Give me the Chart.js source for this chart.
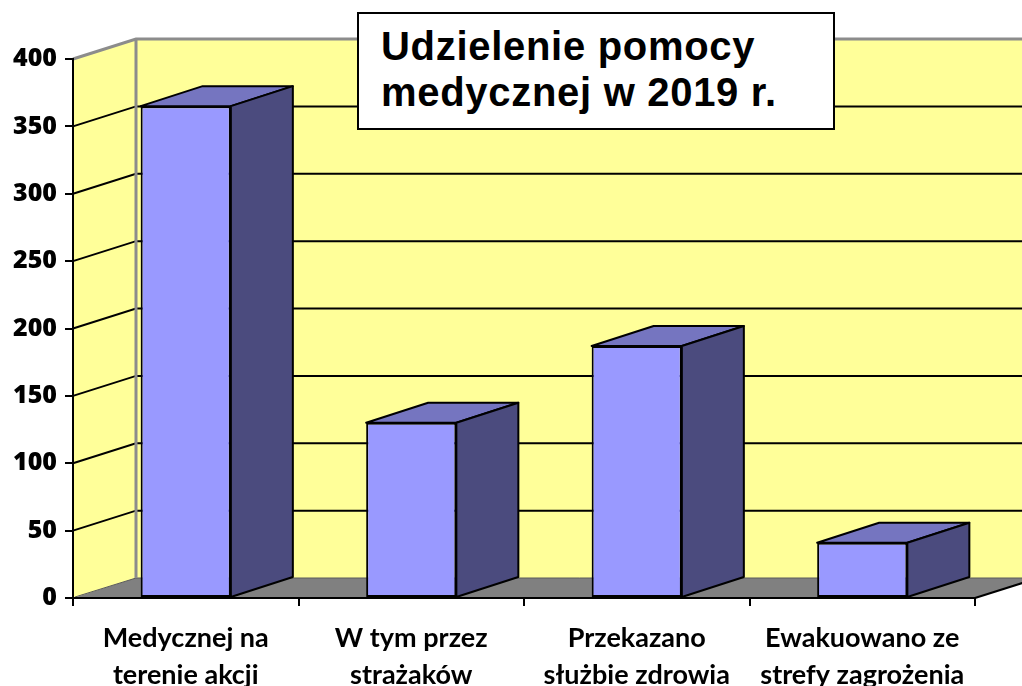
<!DOCTYPE html>
<html>
<head>
<meta charset="utf-8">
<script src="https://cdn.jsdelivr.net/npm/chart.js@4/dist/chart.umd.min.js"></script>
<style>
    body { margin: 0; background: #fff; }
    #wrap { position: relative; width: 1022px; height: 686px; }
    #title {
        position: absolute; left: 357px; top: 12px; width: 478px; height: 118px;
        box-sizing: border-box; border: 2px solid #000; background: #fff;
        font: bold 40px 'Liberation Sans', Arial, sans-serif; letter-spacing: 0.7px;
        line-height: 46px; padding: 9px 0 0 22px; color: #000;
    }
</style>
</head>
<body>
<div id="wrap">
    <canvas id="chart" width="1022" height="686"></canvas>
    <div id="title">Udzielenie pomocy<br>medycznej w 2019 r.</div>
</div>
<script>
const categories = [
    ['Medycznej na', 'terenie akcji'],
    ['W tym przez', 'strażaków'],
    ['Przekazano', 'służbie zdrowia'],
    ['Ewakuowano ze', 'strefy zagrożenia']
];
const values = [365, 130, 187, 41];
const yTickValues = [0, 50, 100, 150, 200, 250, 300, 350, 400];

// depth of the fake 3d box
const WALL_DX = 63, BAR_DX = 62, DEPTH_DY = -20;

const walls3d = {
    id: 'walls3d',
    beforeDraw(chart) {
        const { ctx, chartArea: a, scales: { y } } = chart;
        const top = y.getPixelForValue(yTickValues[yTickValues.length - 1]);
        const bottom = y.getPixelForValue(0);
        ctx.save();

        // left side wall
        ctx.fillStyle = '#ffff99';
        ctx.beginPath();
        ctx.moveTo(a.left, bottom);
        ctx.lineTo(a.left, top);
        ctx.lineTo(a.left + WALL_DX, top + DEPTH_DY);
        ctx.lineTo(a.left + WALL_DX, bottom + DEPTH_DY);
        ctx.closePath();
        ctx.fill();

        // back wall
        ctx.fillRect(a.left + WALL_DX, top + DEPTH_DY, a.right - a.left, bottom - top);

        // floor
        ctx.fillStyle = '#808080';
        ctx.beginPath();
        ctx.moveTo(a.left, bottom);
        ctx.lineTo(a.right, bottom);
        ctx.lineTo(a.right + WALL_DX, bottom + DEPTH_DY);
        ctx.lineTo(a.left + WALL_DX, bottom + DEPTH_DY);
        ctx.closePath();
        ctx.fill();
        ctx.strokeStyle = '#000';
        ctx.lineWidth = 2;
        ctx.beginPath();
        ctx.moveTo(a.right, bottom);
        ctx.lineTo(a.right + WALL_DX, bottom + DEPTH_DY);
        ctx.stroke();
        ctx.strokeStyle = '#5a5a5a';
        ctx.lineWidth = 1;
        ctx.beginPath();
        ctx.moveTo(a.left + 2, bottom - 1);
        ctx.lineTo(a.left + WALL_DX, bottom + DEPTH_DY);
        ctx.lineTo(a.right + WALL_DX, bottom + DEPTH_DY);
        ctx.stroke();

        // gridlines on side + back wall
        ctx.strokeStyle = '#000';
        ctx.lineWidth = 2;
        yTickValues.slice(1, -1).forEach(v => {
            const py = y.getPixelForValue(v);
            ctx.beginPath();
            ctx.moveTo(a.left, py);
            ctx.lineTo(a.left + WALL_DX, py + DEPTH_DY);
            ctx.lineTo(a.right + WALL_DX, py + DEPTH_DY);
            ctx.stroke();
        });

        // wall edges
        ctx.strokeStyle = '#8c8c8c';
        ctx.lineWidth = 3;
        ctx.beginPath();
        ctx.moveTo(a.left, top);
        ctx.lineTo(a.left + WALL_DX, top + DEPTH_DY);
        ctx.lineTo(a.right + WALL_DX, top + DEPTH_DY);
        ctx.moveTo(a.left + WALL_DX, top + DEPTH_DY);
        ctx.lineTo(a.left + WALL_DX, bottom + DEPTH_DY);
        ctx.stroke();
        ctx.restore();
    },
    afterDatasetsDraw(chart) {
        const { ctx } = chart;
        ctx.save();
        ctx.strokeStyle = '#000';
        ctx.lineWidth = 2;
        ctx.lineJoin = 'round';
        chart.getDatasetMeta(0).data.forEach(bar => {
            const l = bar.x - bar.width / 2, r = bar.x + bar.width / 2;
            const t = bar.y, b = bar.base;
            // top face
            ctx.fillStyle = '#7575c0';
            ctx.beginPath();
            ctx.moveTo(l, t);
            ctx.lineTo(l + BAR_DX, t + DEPTH_DY);
            ctx.lineTo(r + BAR_DX, t + DEPTH_DY);
            ctx.lineTo(r, t);
            ctx.closePath();
            ctx.fill();
            ctx.stroke();
            // side face
            ctx.fillStyle = '#4b4b7e';
            ctx.beginPath();
            ctx.moveTo(r, t);
            ctx.lineTo(r + BAR_DX, t + DEPTH_DY);
            ctx.lineTo(r + BAR_DX, b + DEPTH_DY);
            ctx.lineTo(r, b);
            ctx.closePath();
            ctx.fill();
            ctx.stroke();
        });
        ctx.restore();
    }
};

new Chart(document.getElementById('chart'), {
    type: 'bar',
    data: {
        labels: categories,
        datasets: [{
            data: values,
            backgroundColor: '#9999ff',
            borderColor: '#000',
            borderWidth: 2,
            borderSkipped: false,
            barPercentage: 0.8,
            categoryPercentage: 0.5
        }]
    },
    options: {
        responsive: false,
        animation: false,
        layout: { padding: { top: 59, right: 47, left: 0, bottom: 0 } },
        plugins: {
            legend: { display: false },
            tooltip: { enabled: false }
        },
        scales: {
            x: {
                border: { color: '#000', width: 2 },
                grid: { drawOnChartArea: false, offset: true, tickLength: 8, color: '#000', lineWidth: 2 },
                ticks: {
                    color: '#000',
                    font: { family: 'Lato', size: 27, weight: 'bold', lineHeight: 1.36 },
                    maxRotation: 0,
                    autoSkip: false,
                    padding: 14
                },
                afterFit(scale) { scale.height = 88; }
            },
            y: {
                min: 0,
                max: 400,
                afterBuildTicks(scale) { scale.ticks = yTickValues.map(v => ({ value: v })); },
                border: { color: '#000', width: 2 },
                grid: { drawOnChartArea: false, tickLength: 8, color: '#000', lineWidth: 2 },
                ticks: {
                    color: '#000',
                    font: { family: "'Open Sans'", size: 25, weight: '800' },
                    padding: 8
                },
                afterFit(scale) { scale.width = 73; }
            }
        }
    },
    plugins: [walls3d]
});
</script>
</body>
</html>
